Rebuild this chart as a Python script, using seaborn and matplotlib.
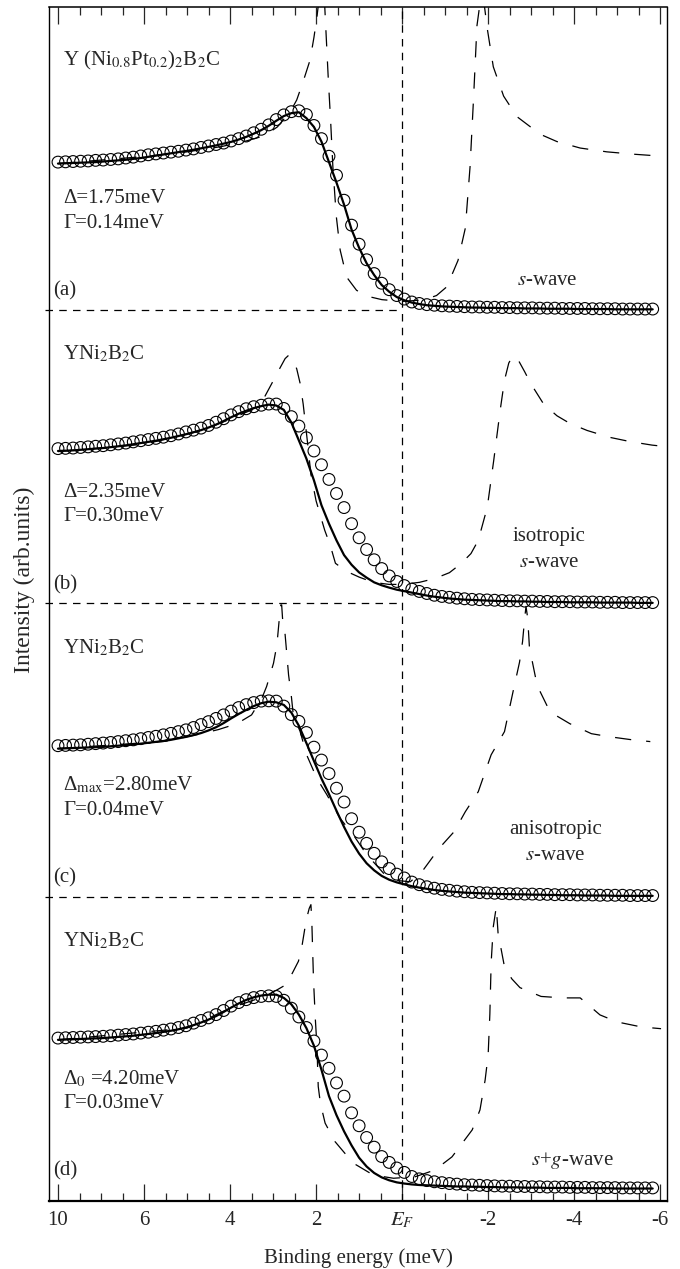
import matplotlib
matplotlib.use('Agg')
import matplotlib.pyplot as plt
import pandas as pd
import seaborn as sns

sns.set_style('ticks')
plt.rcParams['font.family'] = ['Liberation Serif', 'DejaVu Serif']
plt.rcParams['mathtext.fontset'] = 'stix'

# binding energy of the measured points (meV); the fits use the same grid
energy = [8.000, 7.825, 7.650, 7.475, 7.300, 7.125, 6.950, 6.775, 6.600, 6.425,
          6.250, 6.075, 5.900, 5.725, 5.550, 5.375, 5.200, 5.025, 4.850, 4.675,
          4.500, 4.325, 4.150, 3.975, 3.800, 3.625, 3.450, 3.275, 3.100, 2.925,
          2.750, 2.575, 2.400, 2.225, 2.050, 1.875, 1.700, 1.525, 1.350, 1.175,
          1.000, 0.825, 0.650, 0.475, 0.300, 0.125, -0.050, -0.225, -0.400, -0.575,
          -0.750, -0.925, -1.100, -1.275, -1.450, -1.625, -1.800, -1.975, -2.150, -2.325,
          -2.500, -2.675, -2.850, -3.025, -3.200, -3.375, -3.550, -3.725, -3.900, -4.075,
          -4.250, -4.425, -4.600, -4.775, -4.950, -5.125, -5.300, -5.475, -5.650, -5.825]

# (a) Y(Ni0.8Pt0.2)2B2C
data_a = [0.505, 0.506, 0.507, 0.508, 0.509, 0.511, 0.512, 0.514, 0.516, 0.519,
          0.522, 0.526, 0.530, 0.533, 0.536, 0.539, 0.542, 0.546, 0.550, 0.555,
          0.560, 0.565, 0.570, 0.577, 0.585, 0.594, 0.605, 0.617, 0.632, 0.650,
          0.666, 0.677, 0.680, 0.667, 0.630, 0.585, 0.525, 0.460, 0.375, 0.290,
          0.225, 0.172, 0.125, 0.092, 0.070, 0.050, 0.038, 0.028, 0.023, 0.019,
          0.017, 0.015, 0.014, 0.013, 0.012, 0.011, 0.011, 0.010, 0.010, 0.009,
          0.009, 0.008, 0.008, 0.008, 0.007, 0.007, 0.007, 0.006, 0.006, 0.006,
          0.006, 0.005, 0.005, 0.005, 0.005, 0.004, 0.004, 0.004, 0.004, 0.004]
fit_a = [0.500, 0.501, 0.502, 0.503, 0.504, 0.505, 0.507, 0.509, 0.511, 0.513,
         0.516, 0.519, 0.523, 0.527, 0.531, 0.535, 0.539, 0.543, 0.547, 0.552,
         0.557, 0.562, 0.568, 0.574, 0.582, 0.591, 0.602, 0.614, 0.629, 0.646,
         0.662, 0.672, 0.675, 0.655, 0.625, 0.575, 0.505, 0.435, 0.360, 0.275,
         0.213, 0.160, 0.120, 0.086, 0.063, 0.045, 0.034, 0.026, 0.021, 0.017,
         0.015, 0.013, 0.012, 0.011, 0.010, 0.009, 0.009, 0.008, 0.008, 0.007,
         0.007, 0.007, 0.006, 0.006, 0.006, 0.005, 0.005, 0.005, 0.005, 0.004,
         0.004, 0.004, 0.004, 0.004, 0.003, 0.003, 0.003, 0.003, 0.003, 0.003]
dos_e_a = [8.0, 6.0, 5.0, 4.2, 3.6, 3.2, 2.9, 2.7, 2.55, 2.45, 2.3, 2.14, 2.05, 1.98,
           1.9, 1.82, 1.77, 1.72, 1.66, 1.61, 1.53, 1.44, 1.29, 1.06, 0.82, 0.47, 0.0,
           -0.5, -0.8, -1.04, -1.3, -1.47, -1.58, -1.66, -1.74, -1.86, -1.98, -2.12,
           -2.36, -2.67, -3.21, -3.6, -4.14, -4.76, -5.38, -5.96]
dos_a = [0.500, 0.524, 0.540, 0.558, 0.578, 0.595, 0.625, 0.660, 0.690, 0.717, 0.780,
         0.853, 0.930, 1.000, 1.100, 1.100, 0.950, 0.800, 0.640, 0.490, 0.320, 0.205,
         0.113, 0.068, 0.048, 0.036, 0.030, 0.035, 0.050, 0.080, 0.170, 0.280, 0.490,
         0.720, 0.970, 1.100, 0.960, 0.830, 0.730, 0.660, 0.600, 0.575, 0.553, 0.540,
         0.532, 0.526]

# (b) YNi2B2C isotropic s-wave
data_b = [0.528, 0.529, 0.530, 0.532, 0.534, 0.536, 0.538, 0.541, 0.544, 0.547,
          0.551, 0.555, 0.559, 0.563, 0.567, 0.572, 0.578, 0.585, 0.591, 0.598,
          0.607, 0.618, 0.630, 0.643, 0.654, 0.664, 0.671, 0.676, 0.680, 0.680,
          0.665, 0.637, 0.605, 0.565, 0.520, 0.473, 0.423, 0.375, 0.327, 0.272,
          0.224, 0.184, 0.149, 0.119, 0.094, 0.075, 0.061, 0.049, 0.041, 0.034,
          0.028, 0.024, 0.021, 0.018, 0.016, 0.014, 0.013, 0.012, 0.011, 0.010,
          0.009, 0.009, 0.008, 0.008, 0.007, 0.007, 0.006, 0.006, 0.006, 0.005,
          0.005, 0.005, 0.004, 0.004, 0.004, 0.003, 0.003, 0.003, 0.003, 0.003]
fit_b = [0.520, 0.521, 0.522, 0.524, 0.526, 0.528, 0.530, 0.533, 0.536, 0.539,
         0.543, 0.547, 0.551, 0.555, 0.560, 0.565, 0.571, 0.577, 0.584, 0.591,
         0.600, 0.610, 0.622, 0.635, 0.647, 0.657, 0.666, 0.673, 0.678, 0.675,
         0.660, 0.617, 0.556, 0.494, 0.420, 0.335, 0.272, 0.215, 0.165, 0.132,
         0.106, 0.088, 0.072, 0.062, 0.054, 0.047, 0.042, 0.037, 0.032, 0.027,
         0.023, 0.020, 0.017, 0.015, 0.013, 0.012, 0.011, 0.010, 0.009, 0.008,
         0.008, 0.007, 0.007, 0.006, 0.006, 0.005, 0.005, 0.005, 0.004, 0.004,
         0.004, 0.004, 0.003, 0.003, 0.003, 0.003, 0.003, 0.002, 0.002, 0.002]
dos_e_b = [8.0, 6.0, 4.7, 4.0, 3.5, 3.25, 3.03, 2.85, 2.72, 2.64, 2.55, 2.45, 2.37,
           2.3, 2.2, 2.12, 2.0, 1.9, 1.8, 1.67, 1.55, 1.3, 1.0, 0.67, 0.3, 0.0, -0.4,
           -0.76, -1.1, -1.37, -1.6, -1.77, -1.98, -2.13, -2.28, -2.38, -2.48, -2.58,
           -2.7, -2.85, -2.99, -3.29, -3.6, -3.9, -4.3, -4.81, -5.3, -5.81, -6.0]
dos_b = [0.518, 0.543, 0.588, 0.628, 0.660, 0.690, 0.750, 0.800, 0.835, 0.846, 0.835,
         0.800, 0.750, 0.680, 0.550, 0.440, 0.350, 0.300, 0.250, 0.198, 0.137, 0.110,
         0.090, 0.072, 0.065, 0.065, 0.072, 0.085, 0.105, 0.136, 0.170, 0.215, 0.328,
         0.488, 0.659, 0.761, 0.820, 0.846, 0.830, 0.790, 0.750, 0.680, 0.640, 0.614,
         0.590, 0.567, 0.552, 0.540, 0.537]

# (c) YNi2B2C anisotropic s-wave
data_c = [0.515, 0.516, 0.517, 0.518, 0.520, 0.522, 0.524, 0.526, 0.529, 0.532,
          0.535, 0.539, 0.543, 0.547, 0.552, 0.557, 0.563, 0.569, 0.577, 0.587,
          0.597, 0.608, 0.620, 0.633, 0.645, 0.655, 0.662, 0.667, 0.668, 0.667,
          0.650, 0.621, 0.598, 0.560, 0.510, 0.466, 0.420, 0.370, 0.323, 0.266,
          0.220, 0.182, 0.148, 0.119, 0.096, 0.077, 0.064, 0.050, 0.041, 0.034,
          0.029, 0.025, 0.022, 0.019, 0.017, 0.015, 0.014, 0.013, 0.012, 0.011,
          0.010, 0.010, 0.009, 0.009, 0.008, 0.008, 0.007, 0.007, 0.007, 0.006,
          0.006, 0.006, 0.005, 0.005, 0.005, 0.005, 0.004, 0.004, 0.004, 0.004]
fit_c = [0.505, 0.506, 0.507, 0.508, 0.509, 0.510, 0.511, 0.513, 0.515, 0.517,
         0.519, 0.522, 0.525, 0.528, 0.531, 0.535, 0.540, 0.545, 0.551, 0.558,
         0.567, 0.578, 0.592, 0.608, 0.623, 0.637, 0.650, 0.660, 0.665, 0.663,
         0.654, 0.628, 0.583, 0.524, 0.463, 0.403, 0.350, 0.293, 0.238, 0.188,
         0.147, 0.114, 0.090, 0.071, 0.058, 0.049, 0.042, 0.036, 0.031, 0.027,
         0.023, 0.020, 0.018, 0.016, 0.014, 0.013, 0.012, 0.011, 0.010, 0.009,
         0.009, 0.008, 0.008, 0.007, 0.007, 0.006, 0.006, 0.005, 0.005, 0.005,
         0.004, 0.004, 0.004, 0.004, 0.003, 0.003, 0.003, 0.003, 0.003, 0.003]
dos_e_c = [8.0, 5.5, 4.7, 4.27, 3.84, 3.5, 3.26, 3.15, 2.99, 2.91, 2.86, 2.82, 2.8,
           2.78, 2.72, 2.67, 2.64, 2.57, 2.53, 2.37, 2.22, 1.98, 1.75, 1.44, 1.13, 0.9,
           0.67, 0.4, 0.1, -0.19, -0.46, -0.86, -1.21, -1.47, -1.77, -2.07, -2.38,
           -2.58, -2.73, -2.8, -2.85, -2.88, -2.92, -2.96, -3.14, -3.44, -3.9, -4.4,
           -4.8, -5.3, -5.77]
dos_c = [0.505, 0.530, 0.555, 0.570, 0.590, 0.620, 0.677, 0.717, 0.796, 0.860, 0.940,
         0.995, 0.995, 0.950, 0.894, 0.809, 0.757, 0.677, 0.620, 0.563, 0.484, 0.403,
         0.348, 0.267, 0.210, 0.160, 0.119, 0.075, 0.055, 0.051, 0.085, 0.165, 0.222,
         0.290, 0.358, 0.484, 0.563, 0.700, 0.800, 0.870, 0.950, 0.990, 0.950, 0.850,
         0.720, 0.630, 0.590, 0.556, 0.546, 0.536, 0.529]

# (d) YNi2B2C s+g-wave
data_d = [0.518, 0.519, 0.520, 0.521, 0.522, 0.523, 0.524, 0.526, 0.528, 0.530,
          0.532, 0.535, 0.538, 0.541, 0.545, 0.549, 0.554, 0.560, 0.569, 0.578,
          0.587, 0.598, 0.612, 0.627, 0.639, 0.649, 0.656, 0.660, 0.662, 0.660,
          0.647, 0.620, 0.590, 0.554, 0.508, 0.460, 0.415, 0.365, 0.320, 0.263,
          0.219, 0.179, 0.146, 0.114, 0.094, 0.075, 0.060, 0.046, 0.038, 0.032,
          0.028, 0.025, 0.022, 0.020, 0.018, 0.017, 0.016, 0.015, 0.014, 0.013,
          0.013, 0.012, 0.012, 0.011, 0.011, 0.010, 0.010, 0.010, 0.009, 0.009,
          0.009, 0.008, 0.008, 0.008, 0.008, 0.007, 0.007, 0.007, 0.007, 0.007]
fit_d = [0.512, 0.513, 0.514, 0.515, 0.516, 0.517, 0.518, 0.520, 0.522, 0.524,
         0.526, 0.529, 0.532, 0.535, 0.539, 0.543, 0.548, 0.554, 0.562, 0.571,
         0.581, 0.593, 0.607, 0.622, 0.636, 0.648, 0.657, 0.663, 0.666, 0.666,
         0.655, 0.633, 0.598, 0.552, 0.492, 0.410, 0.320, 0.255, 0.200, 0.152,
         0.110, 0.080, 0.058, 0.043, 0.033, 0.026, 0.022, 0.019, 0.017, 0.016,
         0.015, 0.014, 0.013, 0.012, 0.012, 0.011, 0.011, 0.010, 0.010, 0.009,
         0.009, 0.009, 0.008, 0.008, 0.008, 0.007, 0.007, 0.007, 0.007, 0.006,
         0.006, 0.006, 0.006, 0.006, 0.005, 0.005, 0.005, 0.005, 0.005, 0.005]
dos_e_d = [8.0, 5.0, 4.0, 3.2, 2.9, 2.7, 2.55, 2.41, 2.33, 2.23, 2.16, 2.12, 2.1, 2.06,
           2.02, 1.98, 1.95, 1.9, 1.79, 1.56, 1.14, 0.67, 0.2, -0.3, -0.76, -1.16,
           -1.63, -1.81, -1.93, -2.0, -2.04, -2.07, -2.12, -2.19, -2.23, -2.38, -2.55,
           -2.74, -3.23, -3.74, -4.14, -4.6, -5.0, -5.56, -6.02]
dos_d = [0.512, 0.552, 0.620, 0.660, 0.683, 0.700, 0.740, 0.780, 0.830, 0.920, 0.960,
         0.973, 0.920, 0.717, 0.590, 0.490, 0.353, 0.296, 0.228, 0.165, 0.092, 0.051,
         0.040, 0.045, 0.068, 0.113, 0.205, 0.273, 0.375, 0.460, 0.600, 0.775, 0.898,
         0.966, 0.877, 0.761, 0.720, 0.690, 0.660, 0.655, 0.655, 0.597, 0.573, 0.556,
         0.550]

tick_pos = [8, 6, 4, 2, 0, -2, -4, -6]
tick_labels = ['10', '6', '4', '2', '$E_F$', '-2', '-4', '-6']

panels = [
    (3, data_a, fit_a, dos_e_a, dos_a, '(a)', r'Y (Ni$_{0.8}$Pt$_{0.2}$)$_2$B$_2$C',
     'Δ=1.75meV', 'Γ=0.14meV', ['$s$-wave'], -3.37),
    (2, data_b, fit_b, dos_e_b, dos_b, '(b)', r'YNi$_2$B$_2$C',
     'Δ=2.35meV', 'Γ=0.30meV', ['isotropic', '$s$-wave'], -3.42),
    (1, data_c, fit_c, dos_e_c, dos_c, '(c)', r'YNi$_2$B$_2$C',
     r'Δ$_{\rm max}$=2.80meV', 'Γ=0.04meV', ['anisotropic', '$s$-wave'], -3.56),
    (0, data_d, fit_d, dos_e_d, dos_d, '(d)', r'YNi$_2$B$_2$C',
     r'Δ$_0$ =4.20meV', 'Γ=0.03meV', ['$s$+$g$-wave'], -3.95),
]
# text heights inside a panel (fraction of the panel height)
name_y, gap_y, gam_y, tag_y = 0.85, 0.38, 0.295, 0.065

fig = plt.figure(figsize=(6.8, 12.69), dpi=100)
ax = fig.add_axes([0.072, 0.0536, 0.909, 0.9409])
fs = 15
dash_long = (0, (13, 12))
dash_short = (0, (6, 5))

for off, data, fit, dos_e, dos, tag, name, gap, gam, wave, wx in panels:
    df = pd.DataFrame({'e': energy, 'data': [v + off for v in data],
                       'fit': [v + off for v in fit]})
    dd = pd.DataFrame({'e': dos_e, 'dos': [v + off for v in dos]})
    sns.lineplot(data=dd, x='e', y='dos', ax=ax, sort=False, color='black',
                 lw=0.9, linestyle=dash_long, errorbar=None)
    sns.lineplot(data=df, x='e', y='fit', ax=ax, sort=False, color='black',
                 lw=1.6, errorbar=None)
    sns.scatterplot(data=df, x='e', y='data', ax=ax, marker='o', s=72,
                    facecolor='none', edgecolor='black', linewidth=0.8, zorder=3)
    if off > 0:
        ax.plot([8.3, 0], [off, off], color='black', lw=0.9,
                linestyle=dash_short, clip_on=False)
    ax.text(7.88, off + name_y, name, fontsize=fs, va='center', ha='left')
    ax.text(7.88, off + gap_y, gap, fontsize=fs, va='center', ha='left')
    ax.text(7.88, off + gam_y, gam, fontsize=fs, va='center', ha='left')
    ax.text(8.12, off + tag_y, tag, fontsize=fs, va='center', ha='left')
    wave_y = [0.23, 0.14] if len(wave) == 2 else [0.10]
    for line, yy in zip(wave, wave_y):
        ax.text(wx, off + yy, line, fontsize=fs, va='center', ha='center')

ax.axvline(0, color='black', lw=0.9, linestyle=dash_short)

ax.set_xlim(8.21, -6.16)
ax.set_ylim(-0.0375, 4.034)
ax.set_xticks(tick_pos)
ax.set_xticklabels(tick_labels)
ax.set_xticks([8 - 0.5 * i for i in range(29)], minor=True)
ax.set_yticks([])
ax.tick_params(axis='x', which='both', direction='in', top=True, bottom=True,
               width=0.9, labelsize=fs, pad=7)
ax.tick_params(axis='x', which='major', length=12)
ax.tick_params(axis='x', which='minor', length=6)
for side, w in [('top', 1.1), ('bottom', 1.6), ('left', 1.0), ('right', 1.0)]:
    ax.spines[side].set_visible(True)
    ax.spines[side].set_linewidth(w)
    ax.spines[side].set_color('black')
ax.set_xlabel('Binding energy (meV)', fontsize=fs, labelpad=13)
ax.set_ylabel('Intensity (arb.units)', fontsize=17)
ax.yaxis.set_label_coords(-0.022, 0.52)

fig.savefig('out.png', dpi=100)
